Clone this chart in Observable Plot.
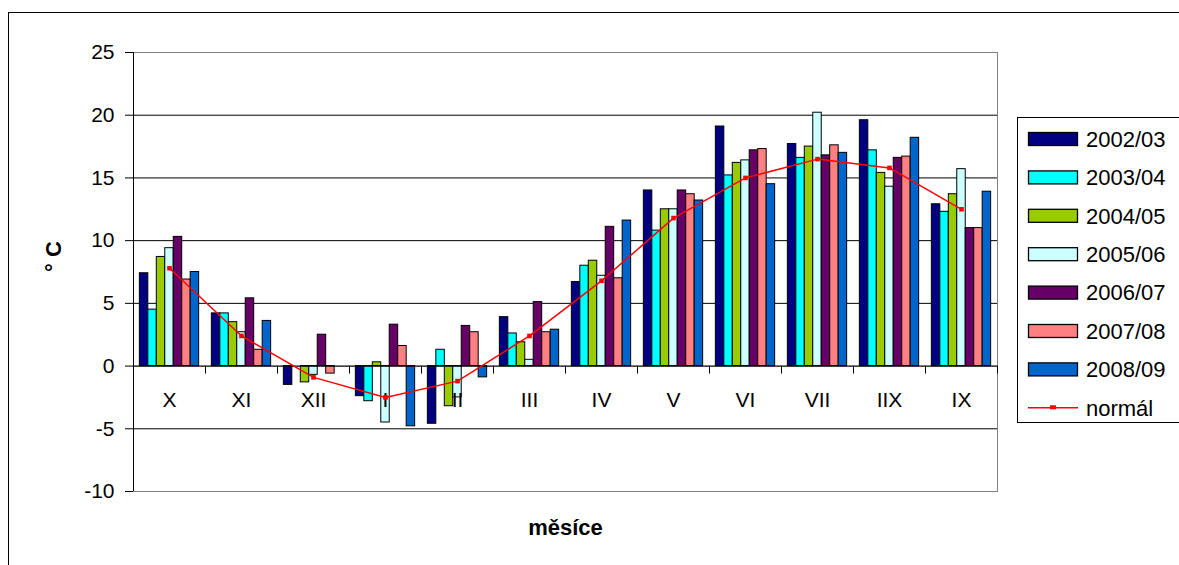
<!DOCTYPE html>
<html>
<head>
<meta charset="utf-8">
<script src="https://cdn.jsdelivr.net/npm/d3@7"></script>
<script src="https://cdn.jsdelivr.net/npm/@observablehq/plot@0.6"></script>
<style>
  html, body { margin: 0; padding: 0; background: #fff; overflow: hidden; }
  body { width: 1179px; height: 565px; position: relative; font-family: Arial, "Liberation Sans", sans-serif; }
  #frame { position: absolute; left: 8px; top: 12px; width: 1200px; height: 600px; border: 1px solid #000; box-sizing: border-box; }
  #chart { position: absolute; left: 0; top: 0; }
  #legend { position: absolute; left: 1017px; top: 117px; width: 180px; height: 306px; border: 1px solid #000; box-sizing: border-box; background: #fff; }
  #legend svg { position: absolute; left: 0; top: 0; overflow: visible; }
</style>
</head>
<body>
<div id="frame"></div>
<div id="chart"></div>
<div id="legend"></div>
<script>
// Monthly mean temperatures (°C) by hydrological year, October → September
const months = ["X", "XI", "XII", "I", "II", "III", "IV", "V", "VI", "VII", "IIX", "IX"];
const seasons = ["2002/03", "2003/04", "2004/05", "2005/06", "2006/07", "2007/08", "2008/09"];
const seasonColors = ["#000080", "#00FFFF", "#99CC00", "#CCFFFF", "#660066", "#FF8080", "#0066CC"];

const t2002 = [7.4, 4.2, -1.5, -2.4, -4.6, 3.9, 6.7, 14.0, 19.1, 17.7, 19.6, 12.9];
const t2003 = [4.5, 4.2, 0.0, -2.8, 1.3, 2.6, 8.0, 10.8, 15.2, 16.6, 17.2, 12.3];
const t2004 = [8.7, 3.5, -1.3, 0.3, -3.2, 1.9, 8.4, 12.5, 16.2, 17.5, 15.4, 13.7];
const t2005 = [9.4, 2.7, -0.7, -4.5, -2.5, 0.5, 7.2, 12.5, 16.4, 20.2, 14.3, 15.7];
const t2006 = [10.3, 5.4, 2.5, 3.3, 3.2, 5.1, 11.1, 14.0, 17.2, 16.8, 16.6, 11.0];
const t2007 = [6.9, 1.3, -0.6, 1.6, 2.7, 2.7, 7.0, 13.7, 17.3, 17.6, 16.7, 11.0];
const t2008 = [7.5, 3.6, 0.0, -4.8, -0.9, 2.9, 11.6, 13.2, 14.5, 17.0, 18.2, 13.9];
const normal = [7.8, 2.4, -0.9, -2.5, -1.2, 2.4, 6.8, 11.8, 15.0, 16.5, 15.8, 12.5];

const yTicks = [-10, -5, 0, 5, 10, 15, 20, 25];
const gridValues = [-5, 5, 10, 15, 20];

const seriesValues = [t2002, t2003, t2004, t2005, t2006, t2007, t2008];

// Tidy table: one row per (month, season) bar
const groupSpan = 0.8235;                 // share of each month slot taken by its bars
const barSpan = groupSpan / seasons.length;
const bars = [];
seriesValues.forEach((vals, k) => {
  vals.forEach((v, i) => {
    bars.push({
      month: months[i],
      index: i,
      season: seasons[k],
      k,
      value: v,
      x1: i - groupSpan / 2 + k * barSpan,
      x2: i - groupSpan / 2 + (k + 1) * barSpan
    });
  });
});
const normalRows = normal.map((v, i) => ({index: i, month: months[i], value: v}));
const monthRows = months.map((m, i) => ({index: i, month: m}));
const boundaries = d3.range(-0.5, months.length, 1);

const font = 'Arial, "Liberation Sans", sans-serif';

const chart = Plot.plot({
  width: 1179,
  height: 565,
  marginLeft: 133,
  marginRight: 182,
  marginTop: 52,
  marginBottom: 74,
  style: {fontFamily: font, fontSize: "21px", background: "transparent", color: "#000", overflow: "visible"},
  x: {type: "linear", domain: [-0.5, months.length - 0.5], axis: null},
  y: {domain: [-10, 25], axis: null},
  color: {domain: seasons, range: seasonColors},
  marks: [
    Plot.frame({stroke: "#808080"}),
    Plot.ruleY(gridValues, {stroke: "#000", strokeWidth: 1}),
    Plot.axisY({ticks: yTicks, tickSize: 8, tickPadding: 11, fontSize: 21, label: null, stroke: "#000",
                tickFormat: (d) => String(d)}),
    Plot.ruleX([-0.5], {stroke: "#000"}),
    Plot.rect(bars, {x1: "x1", x2: "x2", y1: 0, y2: "value", fill: "season", stroke: "#000", strokeWidth: 1}),
    Plot.ruleY([0], {stroke: "#000", strokeWidth: 1.2}),
    Plot.ruleX(boundaries, {y1: 0, y2: 0, insetBottom: -8, stroke: "#000"}),
    Plot.text(monthRows, {x: "index", y: 0, text: "month", dy: 34, fontSize: 21, fill: "#000"}),
    Plot.line(normalRows, {x: "index", y: "value", stroke: "#FF0000", strokeWidth: 1.5}),
    Plot.dot(normalRows, {x: "index", y: "value", symbol: "square", r: 2.6, fill: "#FF0000", stroke: "none"}),
    Plot.text(["měsíce"], {frameAnchor: "bottom", dy: 43, fontWeight: "bold", fontSize: 22, fill: "#000"}),
    Plot.text(["° C"], {frameAnchor: "left", dx: -80, rotate: -90, fontWeight: "bold", fontSize: 22, fill: "#000"})
  ]
});
document.getElementById("chart").appendChild(chart);

// Legend: seven season swatches followed by the long-term normal line
const legend = d3.select("#legend").append("svg").attr("width", 180).attr("height", 306);
const rowStep = 38.4;
const firstRow = 21;
seasons.forEach((s, k) => {
  const cy = firstRow + k * rowStep;
  legend.append("rect")
    .attr("x", 10.5).attr("y", cy - 6.5).attr("width", 49).attr("height", 13)
    .attr("fill", seasonColors[k]).attr("stroke", "#000").attr("stroke-width", 1.3);
  legend.append("text")
    .attr("x", 68).attr("y", cy).attr("dy", "0.35em")
    .attr("font-family", font).attr("font-size", 22).text(s);
});
{
  const cy = firstRow + seasons.length * rowStep;
  legend.append("line").attr("x1", 10).attr("x2", 60).attr("y1", cy).attr("y2", cy)
    .attr("stroke", "#FF0000").attr("stroke-width", 1.5);
  legend.append("rect").attr("x", 32).attr("y", cy - 2.5).attr("width", 6).attr("height", 4)
    .attr("fill", "#FF0000");
  legend.append("text")
    .attr("x", 68).attr("y", cy).attr("dy", "0.35em")
    .attr("font-family", font).attr("font-size", 22).text("normál");
}
</script>
</body>
</html>
